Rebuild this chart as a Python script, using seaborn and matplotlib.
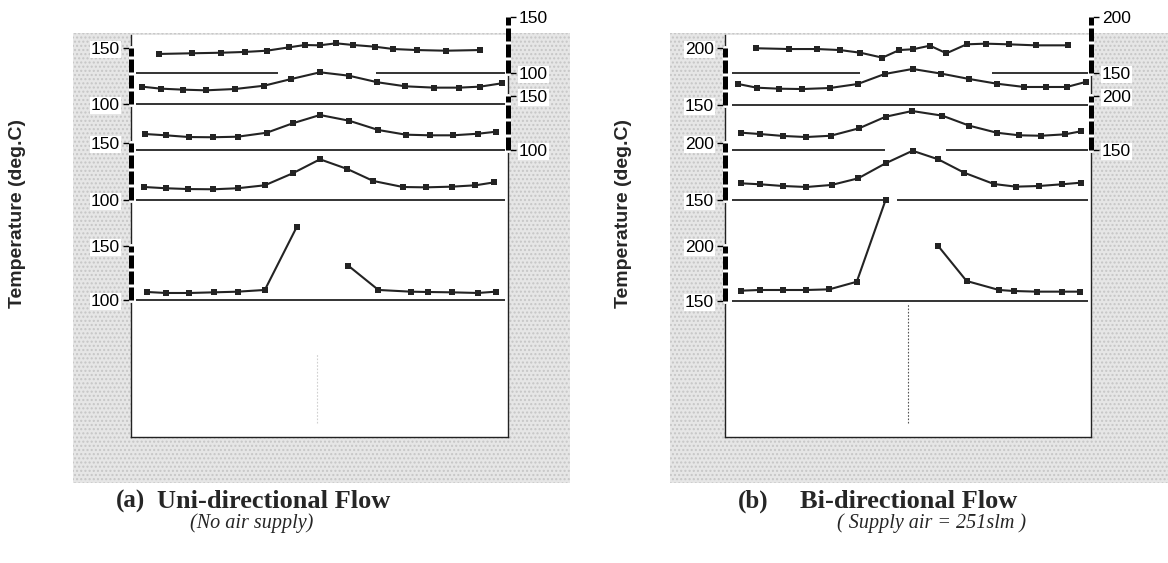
import numpy as np
import pandas as pd
import matplotlib
matplotlib.use("Agg")
import matplotlib.pyplot as plt
from matplotlib.patches import Rectangle
import seaborn as sns

# ---------------- data: panel (a) Uni-directional flow ----------------
a_s1_x = [-3.41, -2.71, -2.09, -1.58, -1.12, -0.65, -0.31, 0.00, 0.35, 0.72, 1.17, 1.57, 2.06, 2.68, 3.41]
a_s1_t = [117.0, 117.6, 118.1, 118.8, 119.9, 122.9, 125.0, 124.7, 126.5, 125.0, 123.5, 121.4, 120.5, 119.9, 120.5]
a_s2_x = [-3.77, -3.37, -2.89, -2.41, -1.79, -1.18, -0.60, 0.01, 0.62, 1.23, 1.82, 2.43, 2.96, 3.41, 3.87]
a_s2_t = [115.5, 113.7, 112.8, 112.2, 113.4, 116.3, 122.3, 128.3, 125.3, 119.4, 115.8, 114.6, 114.6, 115.5, 118.5]
a_s3_x = [-3.70, -3.26, -2.77, -2.27, -1.74, -1.12, -0.57, 0.01, 0.63, 1.25, 1.83, 2.34, 2.83, 3.37, 3.74]
a_s3_t = [114.8, 113.6, 112.0, 111.8, 112.3, 116.0, 124.7, 132.4, 127.1, 118.5, 114.2, 113.6, 113.6, 115.1, 116.9]
a_s4_x = [-3.72, -3.26, -2.78, -2.25, -1.74, -1.16, -0.57, 0.01, 0.59, 1.14, 1.77, 2.26, 2.81, 3.31, 3.71]
a_s4_t = [111.4, 110.3, 109.6, 109.4, 110.3, 112.9, 123.4, 135.7, 127.2, 116.7, 111.4, 111.1, 111.7, 112.9, 115.5]
a_s5_left_x = [-3.65, -3.26, -2.76, -2.24, -1.74, -1.16, -0.48]
a_s5_left_t = [107.4, 106.5, 106.5, 107.1, 107.7, 109.3, 167.9]
a_s5_right_x = [0.61, 1.25, 1.94, 2.31, 2.81, 3.36, 3.74]
a_s5_right_t = [131.8, 109.3, 107.7, 107.4, 107.1, 106.5, 107.7]

# ---------------- data: panel (b) Bi-directional flow ----------------
b_s1_x = [-3.43, -2.70, -2.09, -1.59, -1.14, -0.66, -0.29, 0.01, 0.38, 0.74, 1.18, 1.60, 2.10, 2.69, 3.39]
b_s1_t = [172.1, 171.4, 171.4, 170.5, 168.1, 163.7, 170.5, 171.2, 174.4, 167.6, 175.6, 176.2, 175.6, 174.7, 174.7]
b_s2_x = [-3.81, -3.41, -2.92, -2.41, -1.81, -1.20, -0.61, 0.00, 0.63, 1.24, 1.84, 2.44, 2.91, 3.37, 3.80]
b_s2_t = [168.4, 165.2, 164.3, 164.0, 164.9, 168.4, 177.2, 181.6, 177.5, 172.8, 168.7, 165.8, 165.8, 165.8, 170.4]
b_s3_x = [-3.74, -3.34, -2.83, -2.33, -1.79, -1.17, -0.59, -0.01, 0.65, 1.24, 1.84, 2.33, 2.81, 3.33, 3.68]
b_s3_t = [166.0, 164.8, 163.0, 162.0, 163.2, 170.1, 180.8, 186.1, 181.8, 172.5, 166.0, 163.6, 163.2, 164.5, 167.3]
b_s4_x = [-3.74, -3.34, -2.84, -2.32, -1.77, -1.19, -0.59, 0.00, 0.56, 1.13, 1.78, 2.26, 2.77, 3.27, 3.68]
b_s4_t = [164.6, 163.8, 162.3, 161.4, 163.2, 169.0, 182.2, 193.2, 185.7, 173.9, 164.0, 161.7, 162.3, 163.8, 165.2]
b_s5_left_x = [-3.74, -3.34, -2.84, -2.32, -1.82, -1.22, -0.59]
b_s5_left_t = [159.4, 160.0, 160.0, 160.0, 160.6, 167.5, 241.8]
b_s5_right_x = [0.56, 1.18, 1.89, 2.21, 2.71, 3.26, 3.66]
b_s5_right_t = [200.0, 168.2, 160.0, 159.1, 158.5, 158.5, 158.5]

# tick values per panel (lower, upper)
a_ticks = [100, 150]
b_ticks = [150, 200]

# text
ylabel = "Temperature (deg.C)"
a_tag, a_title, a_sub = "(a)", "Uni-directional Flow", "(No air supply)"
b_tag, b_title, b_sub = "(b)", "Bi-directional Flow", "( Supply air = 251slm )"

# ---------------- figure ----------------
sns.set_style("white")
plt.rcParams["font.family"] = ["Liberation Sans", "DejaVu Sans"]

W, H = 1168, 563
fig = plt.figure(figsize=(W / 100, H / 100), dpi=100)
fig.patch.set_facecolor("white")


def rect(l, t, r, b):
    return [l / W, 1 - b / H, (r - l) / W, (b - t) / H]


LINE = "#232323"


def make_df(segs):
    rows = []
    for k, (xs, ts) in enumerate(segs):
        for x, t in zip(xs, ts):
            rows.append({"x": x, "t": t, "seg": k})
    return pd.DataFrame(rows)


def panel(box, xlim, strips, gray, ticks, vline):
    l, t, r, b = box
    # halftone background
    fig.add_artist(Rectangle((gray[0] / W, 1 - gray[3] / H), (gray[2] - gray[0]) / W,
                             (gray[3] - gray[1]) / H, transform=fig.transFigure,
                             facecolor="#e6e6e6", edgecolor="#c6c6c6", hatch="....",
                             lw=0, zorder=0))
    axb = fig.add_axes(rect(l, t, r, b))
    axb.set_facecolor("white")
    axb.set_xlim(xlim)
    axb.set_ylim(0, 1)
    axb.set_xticks([]); axb.set_yticks([])
    axb.spines["top"].set_visible(False)
    for s in ["left", "right", "bottom"]:
        axb.spines[s].set_color("#222")
        axb.spines[s].set_linewidth(1.0)
    axb.axvline(vline[0], ymin=vline[1], ymax=vline[2], color=vline[3], lw=0.8,
                ls=(0, (1.5, 1.5)))
    axb.set_zorder(1)

    lo, hi = ticks
    for i, st in enumerate(strips):
        ax = fig.add_axes(rect(l, 8, r, b))
        ax.patch.set_alpha(0)
        ax.set_zorder(2 + i)
        ax.set_xlim(xlim)
        p_hi, p_lo = st["anchor"]
        dpp = (hi - lo) / (p_lo - p_hi)
        ax.set_ylim(lo - (b - p_lo) * dpp, hi + (p_hi - 8) * dpp)
        for x0, x1 in st["base"]:
            ax.hlines(lo, x0, x1, color=LINE, lw=1.3)
        df = make_df(st["segs"])
        sns.lineplot(data=df, x="x", y="t", units="seg", estimator=None, ax=ax,
                     color=LINE, lw=1.5, marker="s", markersize=4.9,
                     markeredgewidth=0, legend=False, sort=False)
        ax.set_xlabel(""); ax.set_ylabel("")
        ax.set_xticks([])
        side = st["side"]
        for s in ["left", "right", "top", "bottom"]:
            ax.spines[s].set_visible(s == side)
        sp = ax.spines[side]
        sp.set_bounds(lo, hi)
        sp.set_linewidth(3.6)
        sp.set_color("black")
        sp.set_linestyle((0, (2.6, 0.6)))
        sp.set_capstyle("butt")
        xpos = 0 if side == "left" else 1
        ax.plot([xpos, xpos], [lo, hi], transform=ax.get_yaxis_transform(),
                color="white", lw=3.6, clip_on=False, zorder=1.5)
        if side == "right":
            ax.yaxis.tick_right()
        else:
            ax.yaxis.tick_left()
        ax.set_yticks([lo, hi])
        ax.set_yticklabels([str(lo), str(hi)])
        ax.tick_params(axis="y", direction="out", length=6, width=1.0, pad=2,
                       labelsize=12.5, colors="black")
        for lab in ax.get_yticklabels():
            lab.set_bbox(dict(facecolor="white", edgecolor="none", pad=0.6))


# panel (a)
a_strips = [
    dict(side="right", anchor=(17, 73), base=[(-3.89, -0.88), (1.20, 3.94)],
         segs=[(a_s1_x, a_s1_t)]),
    dict(side="left", anchor=(48, 104), base=[(-3.89, 3.94)], segs=[(a_s2_x, a_s2_t)]),
    dict(side="right", anchor=(96, 150), base=[(-3.89, 3.94)], segs=[(a_s3_x, a_s3_t)]),
    dict(side="left", anchor=(143, 200), base=[(-3.89, 3.94)], segs=[(a_s4_x, a_s4_t)]),
    dict(side="left", anchor=(246, 300), base=[(-3.89, 3.94)],
         segs=[(a_s5_left_x, a_s5_left_t), (a_s5_right_x, a_s5_right_t)]),
]
panel((131, 35, 508, 437), (-4.0, 4.0), a_strips, (73, 33, 570, 483), a_ticks,
      (-0.05, 0.035, 0.21, "#d0d0d0"))

# panel (b)
b_strips = [
    dict(side="right", anchor=(17, 73), base=[(-3.95, -1.14), (1.73, 3.83)],
         segs=[(b_s1_x, b_s1_t)]),
    dict(side="left", anchor=(48, 105), base=[(-3.95, 3.83)], segs=[(b_s2_x, b_s2_t)]),
    dict(side="right", anchor=(96, 150), base=[(-3.95, -0.61), (0.73, 3.83)],
         segs=[(b_s3_x, b_s3_t)]),
    dict(side="left", anchor=(143, 200), base=[(-3.95, -0.55), (-0.35, 3.83)],
         segs=[(b_s4_x, b_s4_t)]),
    dict(side="left", anchor=(246, 301), base=[(-3.95, 3.83)],
         segs=[(b_s5_left_x, b_s5_left_t), (b_s5_right_x, b_s5_right_t)]),
]
panel((725, 35, 1091, 437), (-4.10, 3.90), b_strips, (670, 33, 1168, 483), b_ticks,
      (-0.10, 0.035, 0.33, "#555555"))

# y labels
for xc in (18, 624):
    fig.text(xc / W, 1 - 213 / H, ylabel, rotation=90, ha="center", va="center",
             fontsize=14, fontweight="bold", family=["Liberation Sans", "DejaVu Sans"])

# captions
serif = ["Liberation Serif", "DejaVu Serif"]
cy, sy = 501, 523
fig.text(116 / W, 1 - cy / H, a_tag, ha="left", va="center", fontsize=18,
         fontweight="bold", family=serif)
fig.text(157 / W, 1 - cy / H, a_title, ha="left", va="center", fontsize=19,
         fontweight="bold", family=serif)
fig.text(190 / W, 1 - sy / H, a_sub, ha="left", va="center", fontsize=14.5,
         style="italic", family=serif)
fig.text(738 / W, 1 - cy / H, b_tag, ha="left", va="center", fontsize=18,
         fontweight="bold", family=serif)
fig.text(800 / W, 1 - cy / H, b_title, ha="left", va="center", fontsize=19,
         fontweight="bold", family=serif)
fig.text(837 / W, 1 - sy / H, b_sub, ha="left", va="center", fontsize=14.5,
         style="italic", family=serif)

fig.savefig("out.png", dpi=100, facecolor="white")
